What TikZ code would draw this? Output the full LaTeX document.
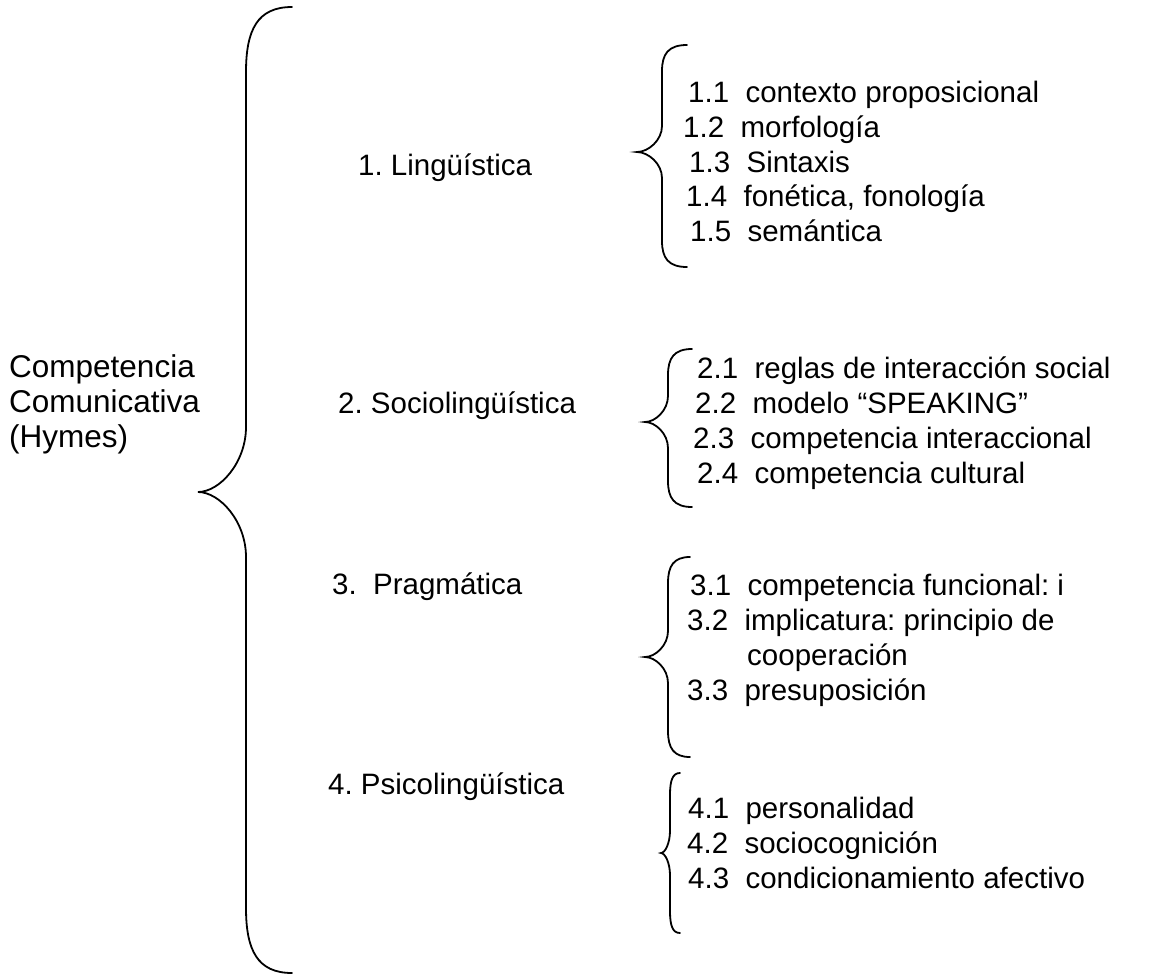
\documentclass[tikz,border=0pt]{standalone}
\usepackage{fontspec}
\setmainfont{Liberation Sans}
\newcommand{\curlyb}[7]{% #1 end x, #2 stem x, #3 tip x, #4 top y, #5 tip y, #6 bottom y, #7 curve height
  \draw[bracepath] (#1,#4) .. controls ({#2+0.25*(#1-#2)},#4) and (#2,{#4+0.35*#7}) .. (#2,{#4+#7})
    -- (#2,{#5-#7}) .. controls (#2,{#5-0.45*#7}) and ({#3+0.45*(#2-#3)},#5) .. (#3,#5)
    .. controls ({#3+0.45*(#2-#3)},#5) and (#2,{#5+0.45*#7}) .. (#2,{#5+#7})
    -- (#2,{#6-#7}) .. controls (#2,{#6-0.35*#7}) and ({#2+0.25*(#1-#2)},#6) .. (#1,#6);}
\begin{document}
\frenchspacing
\begin{tikzpicture}[x=1pt,y=-1pt,
  lbl/.style={anchor=base west, inner sep=0pt, font=\fontsize{29.5}{34}\selectfont},
  rootlbl/.style={anchor=base west, inner sep=0pt, font=\fontsize{31.5}{35}\selectfont},
  bracepath/.style={draw=black, line width=1.8pt, line cap=round}]
\useasboundingbox (0,0) rectangle (1163,978);
% root label
\node[rootlbl] (r1) at (9,377) {Competencia};
\node[rootlbl] (r2) at (9,412) {Comunicativa};
\node[rootlbl] (r3) at (9,447) {(Hymes)};
% big brace
\curlyb{292}{246}{198}{7}{492}{973}{65}
% main branches
\node[lbl] (b1) at (358,175) {1. Lingüística};
\node[lbl] (b2) at (338,413) {2. Sociolingüística};
\node[lbl] (b3) at (332,594) {3.\ \ Pragmática};
\node[lbl] (b4) at (328,794) {4. Psicolingüística};
% section 1
\curlyb{687}{662}{637}{45}{152}{267}{26}
\node[lbl] (i11) at (688,102) {1.1\ \ contexto proposicional};
\node[lbl] (i12) at (683,137) {1.2\ \ morfología};
\node[lbl] (i13) at (689,172) {1.3\ \ Sintaxis};
\node[lbl] (i14) at (686,206) {1.4\ \ fonética, fonología};
\node[lbl] (i15) at (690,241) {1.5\ \ semántica};
% section 2
\curlyb{692}{668}{645}{349}{422}{507}{26}
\node[lbl] (i21) at (697,378) {2.1\ \ reglas de interacción social};
\node[lbl] (i22) at (695,413) {2.2\ \ modelo “SPEAKING”};
\node[lbl] (i23) at (693,448) {2.3\ \ competencia interaccional};
\node[lbl] (i24) at (697,483) {2.4\ \ competencia cultural};
% section 3
\curlyb{690}{668}{645}{557}{657}{757}{26}
\node[lbl] (i31) at (690,595) {3.1\ \ competencia funcional: i};
\node[lbl] (i32) at (687,630) {3.2\ \ implicatura: principio de};
\node[lbl] (i32b) at (747,665) {cooperación};
\node[lbl] (i33) at (687,700) {3.3\ \ presuposición};
% section 4
\curlyb{680}{670}{661}{773}{853}{933}{22}
\node[lbl] (i41) at (688,818) {4.1\ \ personalidad};
\node[lbl] (i42) at (687,853) {4.2\ \ sociocognición};
\node[lbl] (i43) at (688,888) {4.3\ \ condicionamiento afectivo};
\end{tikzpicture}
\end{document}
